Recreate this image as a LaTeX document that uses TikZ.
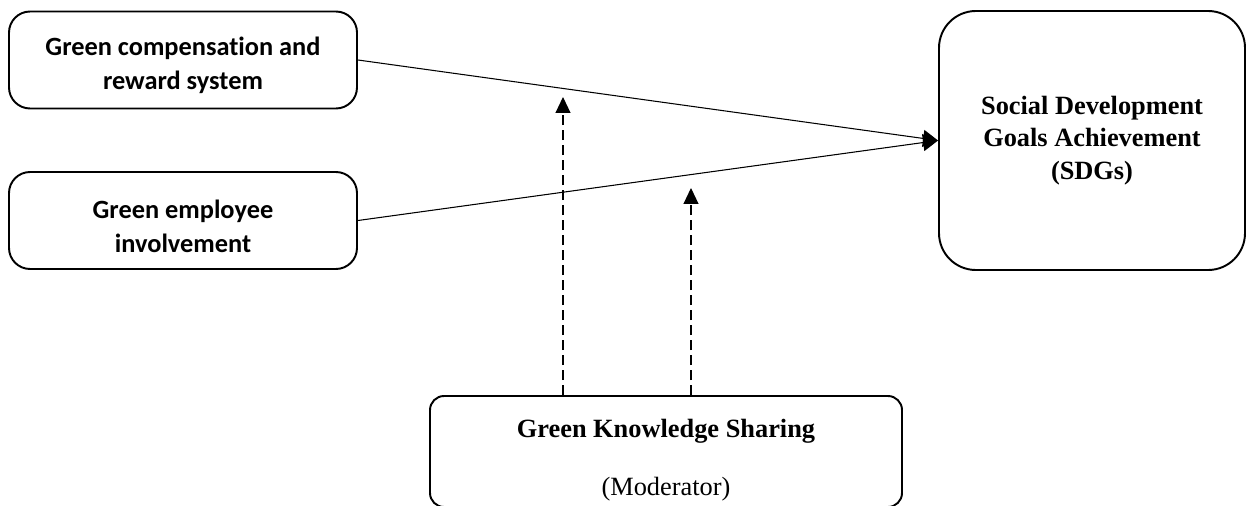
\documentclass[tikz,border=0pt]{standalone}
\usepackage{fontspec}
\setmainfont{Liberation Serif}
\newfontfamily\calibri[Ligatures=NoCommon]{Carlito}
\usetikzlibrary{arrows.meta}

\tikzset{
  hrmbox/.style={draw, line width=1.1pt, rounded corners=12pt, align=center,
    minimum width=6.96cm, minimum height=1.94cm, inner sep=0pt,
    font=\calibri\bfseries\fontsize{15}{19.5}\selectfont},
  goalbox/.style={draw, line width=1.1pt, rounded corners=21pt, align=center,
    minimum width=6.12cm, minimum height=5.18cm, inner sep=0pt,
    font=\bfseries\fontsize{15}{18.5}\selectfont},
  modbox/.style={draw, line width=1.1pt, rounded corners=8pt, align=center,
    minimum width=9.44cm, minimum height=2.22cm, inner sep=0pt,
    font=\fontsize{15}{18}\selectfont},
  effect/.style={line width=0.6pt, -{Triangle[length=3mm, width=3.4mm]}},
  moderate/.style={line width=0.6pt, dash pattern=on 2mm off 1mm,
    -{Triangle[length=3.2mm, width=3mm]}}
}

\begin{document}
\begin{tikzpicture}[x=0.2mm, y=-0.2mm]
    % Page area in pixels of the original (y runs downwards)
    \useasboundingbox (0,0) rectangle (1247,506);
    \clip (0,0) rectangle (1247,506);

    % Independent variables
    \node[hrmbox] (comp) at (183,60) {\rule{0pt}{17pt}Green compensation and\\reward system};
    \node[hrmbox] (invol) at (183,220.5) {\rule{0pt}{17pt}Green employee\\involvement};

    % Dependent variable
    \node[goalbox] (sdg) at (1092,140.5) {Social Development\\Goals Achievement\\(SDGs)};

    % Moderator, its lower edge on the border
    \node[modbox] (mod) at (666,451.5) {\rule{0pt}{20pt}\textbf{Green Knowledge Sharing}\\[15.3pt](Moderator)};

    % Direct effects
    \draw[effect] (comp.east) -- (sdg.west);
    \draw[effect] (invol.east) -- (sdg.west);

    % Moderating effects (dashed)
    \coordinate (tipa) at (563,97);
    \coordinate (tipb) at (691,188);
    \draw[moderate] (mod.north -| tipa) -- (tipa);
    \draw[moderate] (mod.north -| tipb) -- (tipb);
\end{tikzpicture}
\end{document}
